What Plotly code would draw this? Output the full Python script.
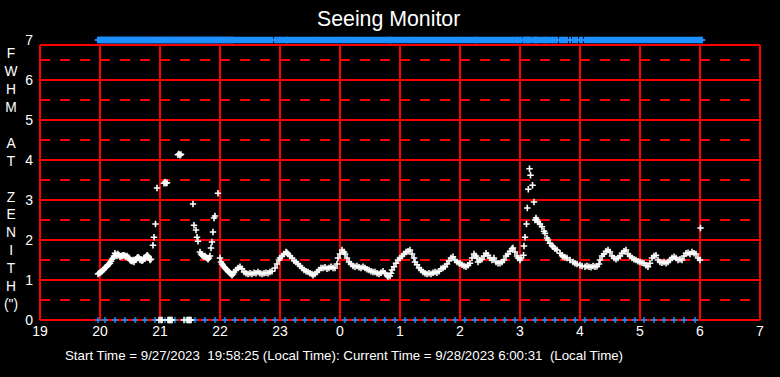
import plotly.graph_objects as go

# ---------------- data ----------------
# time in minutes after 19:00 (local time), FWHM at zenith in arcsec
fwhm_min = [
    58, 59, 60, 61, 62, 63, 64, 65, 66, 67, 68, 69, 70, 71, 72, 73, 74, 75, 76, 77, 78, 79, 80,
    81, 82, 83, 84, 85, 86, 87, 88, 89, 90, 91, 92, 93, 94, 95, 96, 97, 98, 99, 100, 101, 102,
    103, 104, 105, 106, 107, 108, 109, 110, 111,
    113, 114, 115.5, 117, 119, 121, 122, 124, 125, 126, 127, 128, 129, 130, 131, 132,
    138, 139, 140, 141, 144, 147, 148, 149, 150, 151,
    153, 154, 156, 157, 158, 160, 161, 162, 163, 164, 165, 166, 167, 168, 169, 170,
    171, 172, 173, 174, 175, 178,
    180, 181, 182, 183, 184, 185, 186, 187, 188, 189, 190, 191, 192, 193, 194, 196, 198, 200,
    202, 204, 206, 208, 210, 212, 214, 216, 218, 220, 222, 224, 226, 228, 230, 232, 235, 237,
    239, 240, 242, 244, 246, 247, 248, 250, 252, 254, 256, 258, 260, 262, 264, 266, 268, 270,
    272, 273, 275, 277, 279, 281, 283, 285, 287, 289, 291, 293, 295, 297, 298, 300, 302, 304,
    305, 307, 309, 311, 313, 315, 317, 319, 321, 323, 325, 327, 329, 331, 333, 335, 337, 339,
    341, 343, 345, 347, 348, 350, 351, 352, 354, 356, 358, 360, 362, 364, 366, 368, 370, 372,
    374, 375, 377, 379, 381, 383, 385, 387, 389, 391, 393, 395, 397, 399, 401, 403, 405, 407,
    409, 411, 413, 415, 417, 419, 420, 422, 424, 426, 428, 430, 432, 434, 436, 437, 438, 440,
    442, 444, 446, 448, 450, 452, 454, 456, 458, 460, 462, 464, 466, 468, 470, 472, 473, 475,
    477, 478, 480, 481,
    483.5, 484, 485, 486.5, 487.3, 488.3, 489.5, 490.5, 492.5, 494, 495, 496, 497, 498, 500,
    502, 504, 505, 507, 508, 510, 512, 513, 515, 517, 520, 522, 523, 525, 527, 530, 533, 535,
    537, 540, 542, 545, 547, 549, 551, 553, 555, 557, 559, 560, 562, 564, 566, 568, 570, 572,
    574, 576, 578, 580, 582, 584, 586, 588, 590, 592, 594, 596, 598, 600, 602, 604, 606, 608,
    610, 612, 614, 616, 618, 620, 622, 624, 626, 628, 630, 632, 634, 636, 638, 640, 642, 644,
    646, 648, 650, 652, 654, 656, 658, 660, 660.5,
]
fwhm_val = [
    1.15, 1.17, 1.18, 1.2, 1.22, 1.25, 1.27, 1.3, 1.32, 1.35, 1.38, 1.4, 1.42, 1.47, 1.52, 1.55,
    1.6, 1.67, 1.63, 1.6, 1.65, 1.62, 1.58,
    1.6, 1.6, 1.62, 1.62, 1.6, 1.58, 1.6, 1.57, 1.55, 1.5, 1.48, 1.47, 1.5, 1.45, 1.5, 1.52,
    1.55, 1.57, 1.55, 1.5, 1.52, 1.48,
    1.5, 1.55, 1.53, 1.58, 1.62, 1.6, 1.55, 1.5, 1.52,
    1.87, 2.07, 2.4, 3.3, 0, 0, 0, 3.42, 3.45, 3.42, 3.43, 0, 0, 0, 0, 0,
    4.13, 4.15, 4.12, 4.14, 0, 0, 0, 0, 0, 0,
    2.9, 2.37, 2.25, 2.07, 1.97, 1.7, 1.65, 1.62, 1.6, 1.58, 1.6, 1.57, 1.55, 1.52, 1.55, 1.6,
    1.8, 1.95, 2.2, 2.55, 2.6, 3.17,
    1.55, 1.45, 1.4, 1.37, 1.33, 1.3, 1.27, 1.25, 1.22, 1.2, 1.17, 1.15, 1.12, 1.15, 1.2, 1.25,
    1.3, 1.33,
    1.28, 1.2, 1.17, 1.15, 1.17, 1.15, 1.18, 1.17, 1.2, 1.17, 1.15, 1.17, 1.18, 1.17, 1.2, 1.22,
    1.3, 1.4,
    1.5, 1.55, 1.6, 1.65, 1.7, 1.68, 1.65, 1.6, 1.55, 1.48, 1.45, 1.4, 1.35, 1.3, 1.25, 1.22,
    1.2, 1.17,
    1.15, 1.12, 1.15, 1.2, 1.25, 1.3, 1.3, 1.32, 1.28, 1.3, 1.33, 1.3, 1.3, 1.4, 1.55, 1.65,
    1.75, 1.7,
    1.65, 1.55, 1.45, 1.4, 1.35, 1.33, 1.35, 1.32, 1.3, 1.33, 1.3, 1.27, 1.25, 1.22, 1.2, 1.2,
    1.17, 1.15,
    1.18, 1.22, 1.17, 1.12, 1.08, 1.1, 1.17, 1.25, 1.33, 1.42, 1.5, 1.55, 1.6, 1.65, 1.7, 1.72,
    1.75, 1.65,
    1.55, 1.45, 1.38, 1.3, 1.25, 1.2, 1.17, 1.15, 1.17, 1.15, 1.18, 1.2, 1.18, 1.22, 1.28, 1.3,
    1.33, 1.4,
    1.48, 1.55, 1.58, 1.5, 1.45, 1.42, 1.42, 1.38, 1.35, 1.33, 1.37, 1.42, 1.55, 1.65, 1.6, 1.55,
    1.45, 1.5,
    1.52, 1.6, 1.67, 1.62, 1.55, 1.5, 1.55, 1.45, 1.42, 1.42, 1.45, 1.5, 1.6, 1.65, 1.72, 1.78,
    1.8, 1.7,
    1.6, 1.55, 1.5, 1.55,
    1.62, 1.85, 2.07, 2.4, 2.8, 3.27, 3.78, 3.62, 3.37, 2.95, 2.5, 2.55, 2.5, 2.45, 2.4,
    2.33, 2.22, 2.17, 2.05, 2.0, 1.92, 1.86, 1.83, 1.78, 1.75, 1.67, 1.62, 1.58, 1.57, 1.55, 1.5,
    1.45, 1.42,
    1.4, 1.37, 1.35, 1.33, 1.35, 1.33, 1.32, 1.35, 1.33, 1.34, 1.4, 1.5, 1.6, 1.65, 1.72, 1.75,
    1.7, 1.6,
    1.55, 1.52, 1.55, 1.6, 1.67, 1.72, 1.75, 1.65, 1.6, 1.55, 1.52, 1.5, 1.47, 1.45, 1.43, 1.42,
    1.37, 1.33,
    1.42, 1.55, 1.6, 1.62, 1.5, 1.45, 1.43, 1.45, 1.42, 1.45, 1.5, 1.55, 1.58, 1.55, 1.5, 1.52,
    1.5, 1.6,
    1.67, 1.68, 1.65, 1.7, 1.67, 1.65, 1.55, 1.5, 2.3,
]

# extra top status ticks between the FWHM samples (minutes after 19:00)
status_top_extra_min = [112, 116, 118, 120, 123, 133, 134, 135, 136, 137, 142, 143, 145, 146,
                        152, 155, 159, 176, 177, 179, 662]

# bottom status markers (minutes after 19:00)
status_min = [
    58, 65, 75, 85, 95, 105, 115, 125, 135, 145, 155, 165, 175, 185, 195, 205, 215, 225, 235,
    245, 255, 265, 275, 285, 295, 305, 315, 325, 335, 345, 355, 365, 375, 385, 395, 405, 415,
    425, 435, 445, 455, 465, 475, 485, 495, 505, 515, 525, 535, 545, 555, 565, 575, 585, 595,
    604, 614, 624, 634, 644, 655,
]

x_tickvals = [0, 60, 120, 180, 240, 300, 360, 420, 480, 540, 600, 660, 720]
x_ticktext = ["19", "20", "21", "22", "23", "0", "1", "2", "3", "4", "5", "6", "7"]
y_tickvals = [0, 1, 2, 3, 4, 5, 6, 7]

title_text = "Seeing Monitor"
footer_text = ("Start Time = 9/27/2023\u00a0\u00a019:58:25 (Local Time): Current Time = "
               "9/28/2023 6:00:31\u00a0\u00a0(Local Time)")
ylabel_lines = ["F", "W", "H", "M", "\u00a0", "A", "T", "\u00a0", "Z", "E", "N", "I", "T", "H", "(\")"]

# ---------------- figure ----------------
RED = "#FF0000"
BLUE = "#1E90FF"
FONT = "Liberation Sans, Arial, sans-serif"
TOP = 6.875
LW = 2

top_x = fwhm_min + status_top_extra_min
top_y = [7] * len(top_x)
low_y = [0] * len(status_min)

fig = go.Figure()

fig.add_trace(go.Scatter(
    x=top_x, y=top_y, mode="markers", cliponaxis=False, hoverinfo="skip",
    marker=dict(symbol="cross-thin", size=4.6, line=dict(color=BLUE, width=2.2)),
))
fig.add_trace(go.Scatter(
    x=status_min, y=low_y, mode="markers", cliponaxis=False, hoverinfo="skip",
    marker=dict(symbol="cross-thin", size=4.3, line=dict(color=BLUE, width=1.4)),
))
fig.add_trace(go.Scatter(
    x=fwhm_min, y=fwhm_val, mode="markers", cliponaxis=False,
    marker=dict(symbol="cross-thin", size=4.6, line=dict(color="white", width=1.6)),
))

shapes = []
for tv in x_tickvals:
    shapes.append(dict(type="line", xref="x", yref="y", x0=tv, x1=tv, y0=0, y1=TOP,
                       line=dict(color=RED, width=LW), layer="below"))
for v in range(0, 7):
    shapes.append(dict(type="line", xref="x", yref="y", x0=0, x1=720, y0=v, y1=v,
                       line=dict(color=RED, width=LW), layer="below"))
    shapes.append(dict(type="line", xref="x", yref="y", x0=0, x1=720, y0=v + 0.5, y1=v + 0.5,
                       line=dict(color=RED, width=LW, dash="10px,10px"), layer="below"))
shapes.append(dict(type="line", xref="x", yref="y", x0=0, x1=720, y0=TOP, y1=TOP,
                   line=dict(color=RED, width=LW), layer="below"))

annotations = [
    dict(text=title_text, xref="paper", yref="paper", x=0.4834, y=1.0709, xanchor="center",
         yanchor="middle", showarrow=False, font=dict(family=FONT, size=21.3, color="white")),
    dict(text=footer_text, xref="paper", yref="paper", x=0.4224, y=-0.1241, xanchor="center",
         yanchor="middle", showarrow=False, font=dict(family=FONT, size=13.3, color="white")),
    dict(text="<br>".join(ylabel_lines), xref="paper", yref="paper", x=-0.0388, y=0.5035,
         xanchor="center", yanchor="middle", align="center", showarrow=False,
         font=dict(family=FONT, size=13.8, color="white")),
]

# plot area 39..761 x 39..321 px: 1 px per minute, 40 px per FWHM unit
fig.update_layout(
    width=780, height=377,
    margin=dict(l=39, r=19, t=39, b=56, pad=0),
    paper_bgcolor="black", plot_bgcolor="black",
    showlegend=False,
    shapes=shapes, annotations=annotations,
    xaxis=dict(range=[-1, 721], tickvals=x_tickvals, ticktext=x_ticktext, showgrid=False,
               zeroline=False, showline=False, ticks="", fixedrange=True,
               tickfont=dict(family=FONT, size=14, color="white")),
    yaxis=dict(range=[-0.025, 7.025], tickvals=y_tickvals, showgrid=False, zeroline=False,
               showline=False, ticks="", ticklabelstandoff=5, fixedrange=True,
               tickfont=dict(family=FONT, size=14, color="white")),
)

fig.write_html("out.html", config={"displayModeBar": False},
               post_script="document.body.style.margin='0';")
